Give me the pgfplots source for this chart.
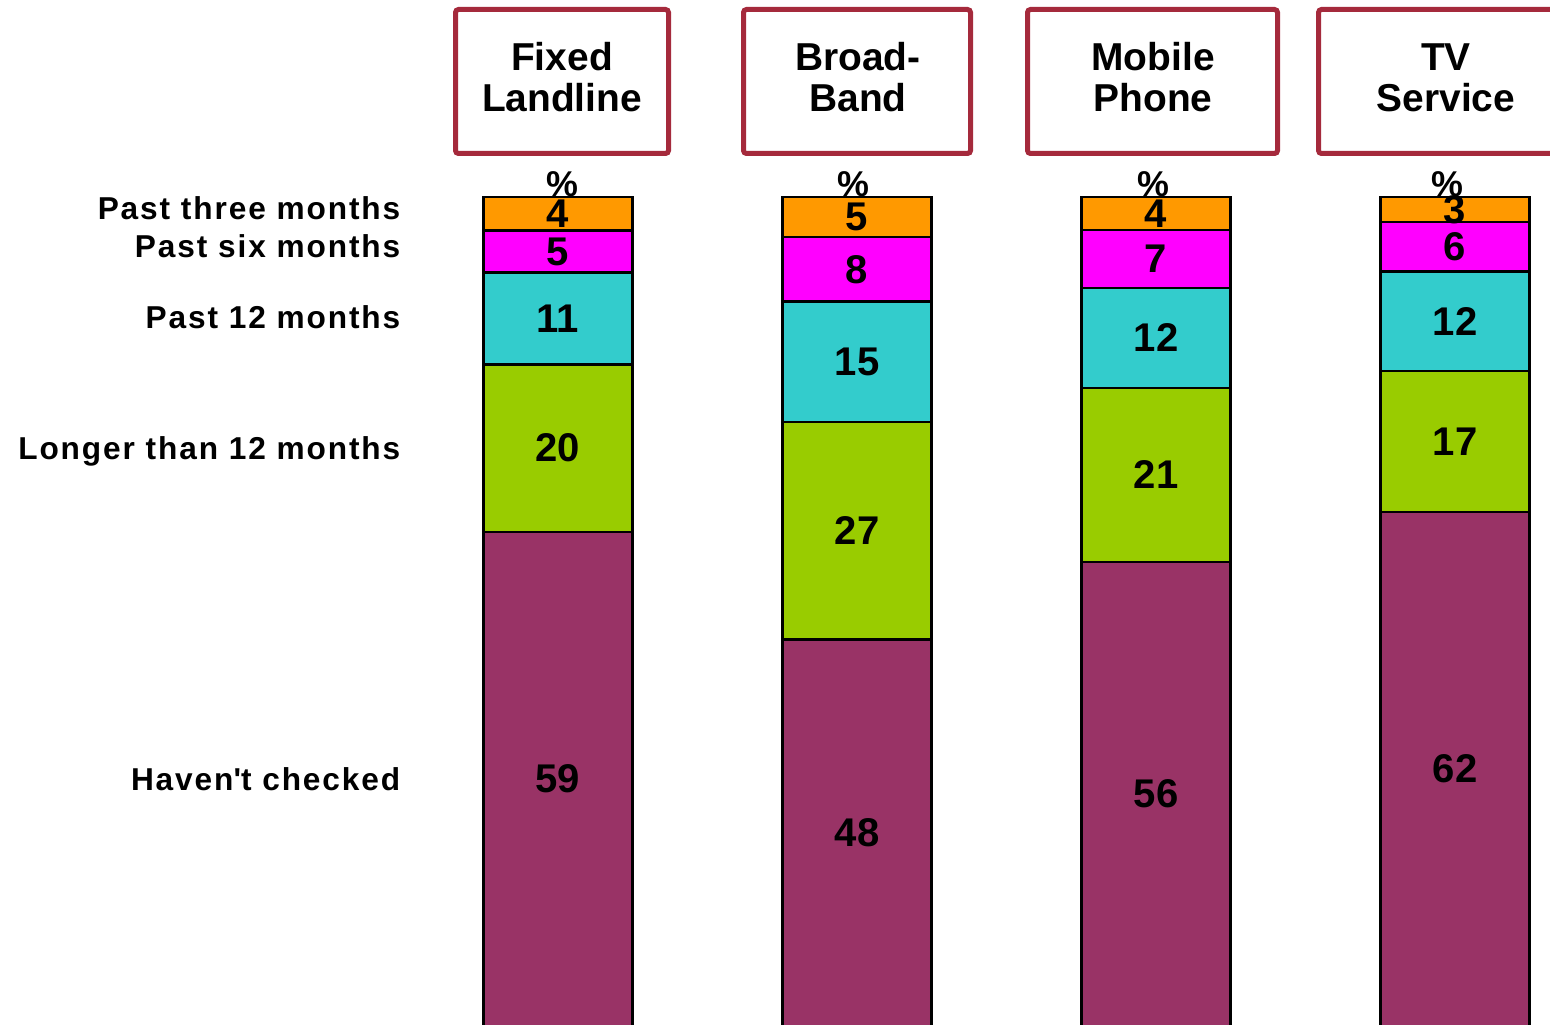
\documentclass[border=0pt]{standalone}
\usepackage{pgfplots}
\pgfplotsset{compat=1.18}
\usepackage{pgfplotstable}
\usepackage{fontspec}
\setmainfont{Liberation Sans}
\definecolor{cThree}{HTML}{FF9900}
\definecolor{cSix}{HTML}{FF00FF}
\definecolor{cTwelve}{HTML}{33CCCC}
\definecolor{cLonger}{HTML}{99CC00}
\definecolor{cNever}{HTML}{993366}
\definecolor{boxred}{HTML}{A52A3C}

% x: 0 Fixed Landline, 1 Broadband, 2 Mobile Phone, 3 TV Service
% h*: share of the (100%-stacked) bar, l*: printed value
\pgfplotstableread{
x hthree hsix htwelve hlonger hnever lthree lsix ltwelve llonger lnever
0 4.04 5.05 11.11 20.20 59.60 4 5 11 20 59
1 4.85 7.77 14.56 26.21 46.60 5 8 15 27 48
2 4    7    12    21    56    4 7 12 21 56
3 3    6    12    17    62    3 6 12 17 62
}\data

\pgfplotsset{base/.style={
  scale only axis, width=113mm, height=82.7mm,
  xmin=-0.4615, xmax=3.3177, ymin=0, ymax=99.76,
  y dir=reverse, axis lines=none, clip=false},
  lab/.style={draw=none, mark=none, nodes near coords, point meta=explicit symbolic}}

\begin{document}
\begin{tikzpicture}
\path[use as bounding box] (0,0) rectangle (155mm,102.4mm);
\begin{axis}[base, at={(42mm,0mm)}, anchor=south west,
  ybar stacked, bar width=14.9mm,
  every axis plot/.append style={draw=black, line width=0.23mm}]
\addplot[fill=cThree] table[x=x,y=hthree]{\data};
\addplot[fill=cSix] table[x=x,y=hsix]{\data};
\addplot[fill=cTwelve] table[x=x,y=htwelve]{\data};
\addplot[fill=cLonger] table[x=x,y=hlonger]{\data};
\addplot[fill=cNever] table[x=x,y=hnever]{\data};
\end{axis}
\begin{axis}[base, at={(42mm,0mm)}, anchor=south west,
  every node near coord/.append style={anchor=center, inner sep=0pt, text=black,
     font=\bfseries\fontsize{11.4}{13}\selectfont}]
\addplot[lab] table[x=x, y expr=\thisrow{hthree}/2, meta=lthree]{\data};
\addplot[lab] table[x=x, y expr=\thisrow{hthree}+\thisrow{hsix}/2, meta=lsix]{\data};
\addplot[lab] table[x=x, y expr=\thisrow{hthree}+\thisrow{hsix}+\thisrow{htwelve}/2, meta=ltwelve]{\data};
\addplot[lab] table[x=x, y expr=\thisrow{hthree}+\thisrow{hsix}+\thisrow{htwelve}+\thisrow{hlonger}/2, meta=llonger]{\data};
\addplot[lab] table[x=x, y expr=\thisrow{hthree}+\thisrow{hsix}+\thisrow{htwelve}+\thisrow{hlonger}+\thisrow{hnever}/2, meta=lnever]{\data};
\end{axis}
\begin{scope}[x=0.1mm, y=-0.1mm, shift={(0,102.4mm)}]
  % header boxes
  \begin{scope}[draw=boxred, line width=0.5mm, rounded corners=0.3mm]
    \draw (455.5,9.5) rectangle (668.5,153.5);
    \draw (743.5,9.5) rectangle (970.5,153.5);
    \draw (1027.5,9.5) rectangle (1277.5,153.5);
    \draw (1318.5,9.5) rectangle (1620,153.5);
  \end{scope}
  \begin{scope}[every node/.style={anchor=base, inner sep=0pt, font=\bfseries\fontsize{11.07}{13}\selectfont}]
    \node at (562,71) {Fixed};   \node at (562,112) {Landline};
    \node at (858,71) {Broad-};  \node at (858,112) {Band};
    \node at (1153,71) {Mobile}; \node at (1153,112) {Phone};
    \node at (1446,71) {TV};     \node at (1446,112) {Service};
  \end{scope}
  \begin{scope}[every node/.style={anchor=base, inner sep=0pt, font=\bfseries\fontsize{10.2}{12}\selectfont}]
    \node at (562,197) {\%};
    \node at (853,197) {\%};
    \node at (1153,197) {\%};
    \node at (1447,197) {\%};
  \end{scope}
  \begin{scope}[every node/.style={anchor=base east, inner sep=0pt, font=\bfseries\fontsize{9}{11}\selectfont\addfontfeatures{LetterSpace=6}}]
    \node at (401,220) {Past three months};
    \node at (401,257) {Past six months};
    \node at (401,328) {Past 12 months};
    \node at (401,459) {Longer than 12 months};
    \node at (401,790) {Haven\textquotesingle t checked};
  \end{scope}
\end{scope}
\end{tikzpicture}
\end{document}
